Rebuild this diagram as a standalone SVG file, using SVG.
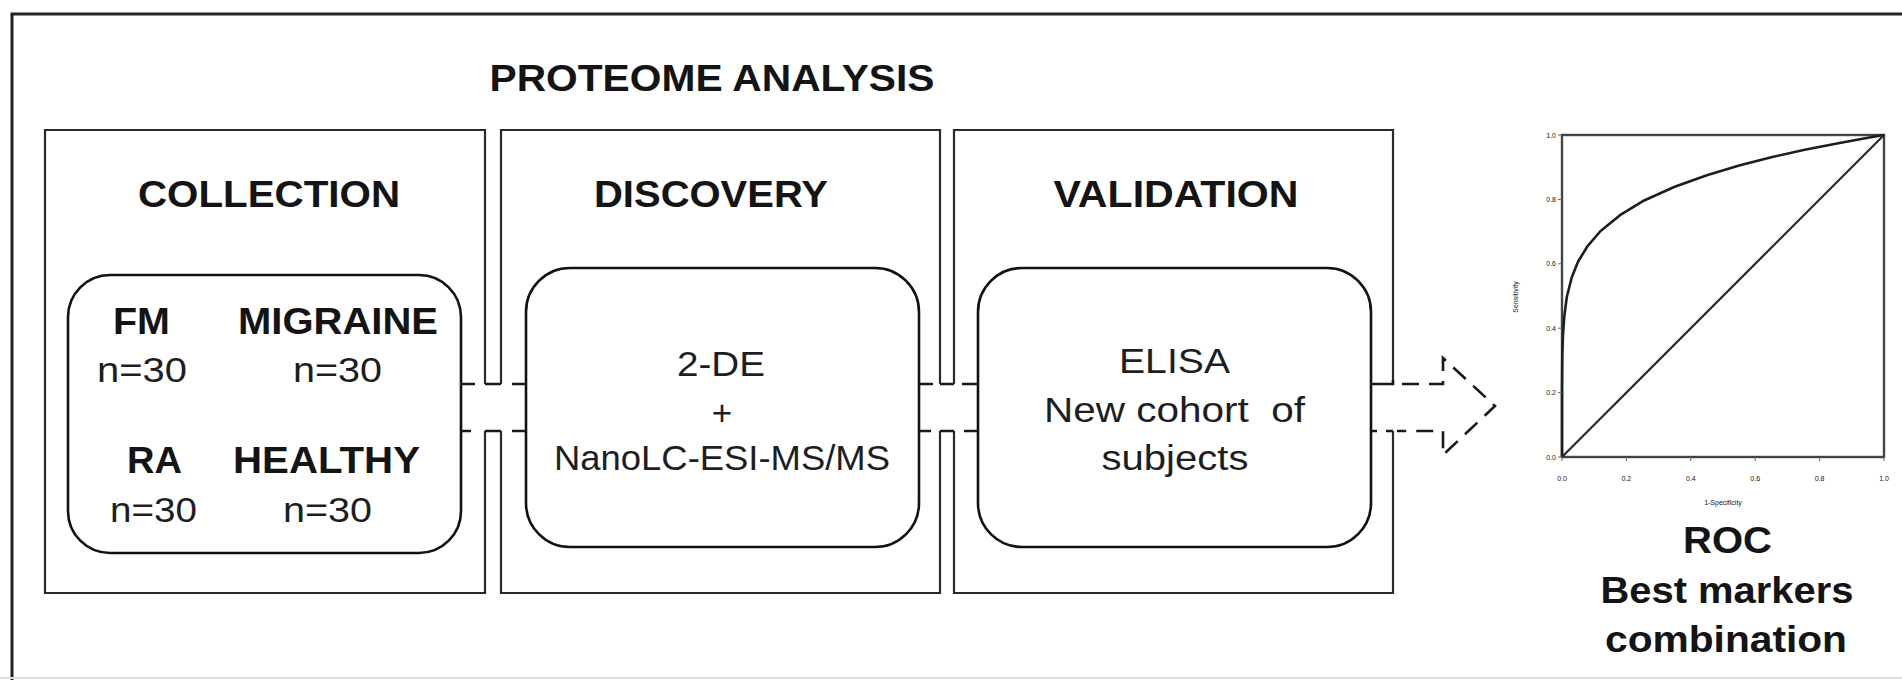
<svg xmlns="http://www.w3.org/2000/svg" width="1902" height="680" viewBox="0 0 1902 680">
<style>
text{font-family:"Liberation Sans",Arial,Helvetica,sans-serif;fill:#141414}
.b{font-weight:bold;font-size:37px}
.r{font-size:35px;fill:#1e1e1e}
.panel{fill:none;stroke:#2a2a2a;stroke-width:2.2}
.box{fill:none;stroke:#111;stroke-width:2.6}
.pipe{fill:none;stroke:#1a1a1a;stroke-width:2.6}
.tick{font-size:7px;fill:#555}
</style>
<rect width="1902" height="680" fill="#fff"/>
<g id="frame">
<path d="M12,680 V14 H1902" fill="none" stroke="#222" stroke-width="3"/>
<line x1="0" y1="678" x2="1902" y2="678" stroke="#ddd" stroke-width="2"/>
</g>
<text id="title" class="b" x="712" y="91" text-anchor="middle" font-size="38" textLength="445" lengthAdjust="spacingAndGlyphs">PROTEOME ANALYSIS</text>

<g id="collection">
<path class="panel" d="M485,384 V130 H45 V593 H485 V431"/>
<text class="b" x="269" y="207" text-anchor="middle" textLength="262" lengthAdjust="spacingAndGlyphs">COLLECTION</text>
<rect class="box" x="68" y="275" width="393" height="278" rx="42" ry="42"/>
<text class="b" x="141.5" y="334" text-anchor="middle" textLength="57" lengthAdjust="spacingAndGlyphs">FM</text>
<text class="b" x="338" y="334" text-anchor="middle" textLength="200" lengthAdjust="spacingAndGlyphs">MIGRAINE</text>
<text class="r" x="142" y="382" text-anchor="middle" textLength="90" lengthAdjust="spacingAndGlyphs">n=30</text>
<text class="r" x="337.5" y="382" text-anchor="middle" textLength="89" lengthAdjust="spacingAndGlyphs">n=30</text>
<text class="b" x="154.5" y="473" text-anchor="middle" textLength="55" lengthAdjust="spacingAndGlyphs">RA</text>
<text class="b" x="326.5" y="473" text-anchor="middle" textLength="187" lengthAdjust="spacingAndGlyphs">HEALTHY</text>
<text class="r" x="153.5" y="522" text-anchor="middle" textLength="87" lengthAdjust="spacingAndGlyphs">n=30</text>
<text class="r" x="327.5" y="522" text-anchor="middle" textLength="89" lengthAdjust="spacingAndGlyphs">n=30</text>
</g>

<g id="discovery">
<path class="panel" d="M501,384 V130 H940 V384 M940,431 V593 H501 V431"/>
<text class="b" x="711" y="207" text-anchor="middle" textLength="234" lengthAdjust="spacingAndGlyphs">DISCOVERY</text>
<rect class="box" x="526" y="268" width="393" height="279" rx="44" ry="44"/>
<text class="r" x="721" y="376" text-anchor="middle" textLength="88" lengthAdjust="spacingAndGlyphs">2-DE</text>
<text class="r" x="722" y="425" text-anchor="middle" font-size="32">+</text>
<text class="r" x="722" y="470" text-anchor="middle" textLength="336" lengthAdjust="spacingAndGlyphs">NanoLC-ESI-MS/MS</text>
</g>

<g id="validation">
<path class="panel" d="M954,384 V130 H1393 V384 M1393,431 V593 H954 V431"/>
<text class="b" x="1176" y="207" text-anchor="middle" textLength="245" lengthAdjust="spacingAndGlyphs">VALIDATION</text>
<rect class="box" x="978" y="268" width="393" height="279" rx="44" ry="44"/>
<text class="r" x="1174.5" y="373" text-anchor="middle" textLength="111" lengthAdjust="spacingAndGlyphs">ELISA</text>
<text class="r" x="1174.5" y="422" text-anchor="middle" textLength="261" lengthAdjust="spacingAndGlyphs" xml:space="preserve">New cohort  of</text>
<text class="r" x="1175" y="470" text-anchor="middle" textLength="147" lengthAdjust="spacingAndGlyphs">subjects</text>
</g>

<g id="connectors">
<path class="pipe" d="M485,384 H501 M485,431 H501 M460,384 H475 M512,384 H526 M460,431 H471 M512,431 H526"/>
<path class="pipe" d="M940,384 H954 M940,431 H954 M919,384 H933 M962,384 H978 M919,431 H931 M964,431 H978"/>
<path class="pipe" d="M1371,384 H1393 V380 M1393,431 H1386 M1371,431 H1377"/>
<path class="pipe" stroke-dasharray="17,10" d="M1402,384 H1443 V358 L1495,406 L1443,455 V431 H1397"/>
</g>

<g id="roc">
<rect x="1562" y="135" width="322" height="322" fill="none" stroke="#444" stroke-width="2.4"/>
<path d="M1562,457 L1884,135" fill="none" stroke="#2a2a2a" stroke-width="2.2"/>
<path d="M1562,457 L1562.03,387.8 L1562.2,366.2 L1562.3,355.2 L1563,334.6 L1564.3,316.3 L1566.8,297 L1571.7,277.6 L1578.1,261.5 L1587.8,245.8 L1600.6,231 L1620,215.2 L1642.5,201.3 L1674.7,186.8 L1706.9,175.3 L1739.1,165.6 L1771.3,157.2 L1803.5,150.1 L1835.7,143.7 L1867.9,137.7 L1884,135" fill="none" stroke="#1e1e1e" stroke-width="2.6" stroke-linejoin="round"/>
<path d="M1558,135 H1562 M1558,199.4 H1562 M1558,263.8 H1562 M1558,328.2 H1562 M1558,392.6 H1562 M1558,457 H1562 M1562,457 V461 M1626.4,457 V461 M1690.8,457 V461 M1755.2,457 V461 M1819.6,457 V461 M1884,457 V461" stroke="#666" stroke-width="1"/>
<g class="tick" text-anchor="end">
<text x="1556" y="137.5">1.0</text>
<text x="1556" y="201.9">0.8</text>
<text x="1556" y="266.3">0.6</text>
<text x="1556" y="330.7">0.4</text>
<text x="1556" y="395.1">0.2</text>
<text x="1556" y="459.5">0.0</text>
</g>
<g class="tick" text-anchor="middle">
<text x="1562" y="481">0.0</text>
<text x="1626.4" y="481">0.2</text>
<text x="1690.8" y="481">0.4</text>
<text x="1755.2" y="481">0.6</text>
<text x="1819.6" y="481">0.8</text>
<text x="1884" y="481">1.0</text>
<text x="1723" y="505">1-Specificity</text>
<text x="0" y="0" transform="translate(1518,297) rotate(-90)">Sensitivity</text>
</g>
<text class="b" x="1727.5" y="553" text-anchor="middle" font-size="38" textLength="89" lengthAdjust="spacingAndGlyphs">ROC</text>
<text class="b" x="1727" y="603" text-anchor="middle" font-size="38" textLength="253" lengthAdjust="spacingAndGlyphs">Best markers</text>
<text class="b" x="1726" y="652" text-anchor="middle" font-size="38" textLength="242" lengthAdjust="spacingAndGlyphs">combination</text>
</g>
</svg>
